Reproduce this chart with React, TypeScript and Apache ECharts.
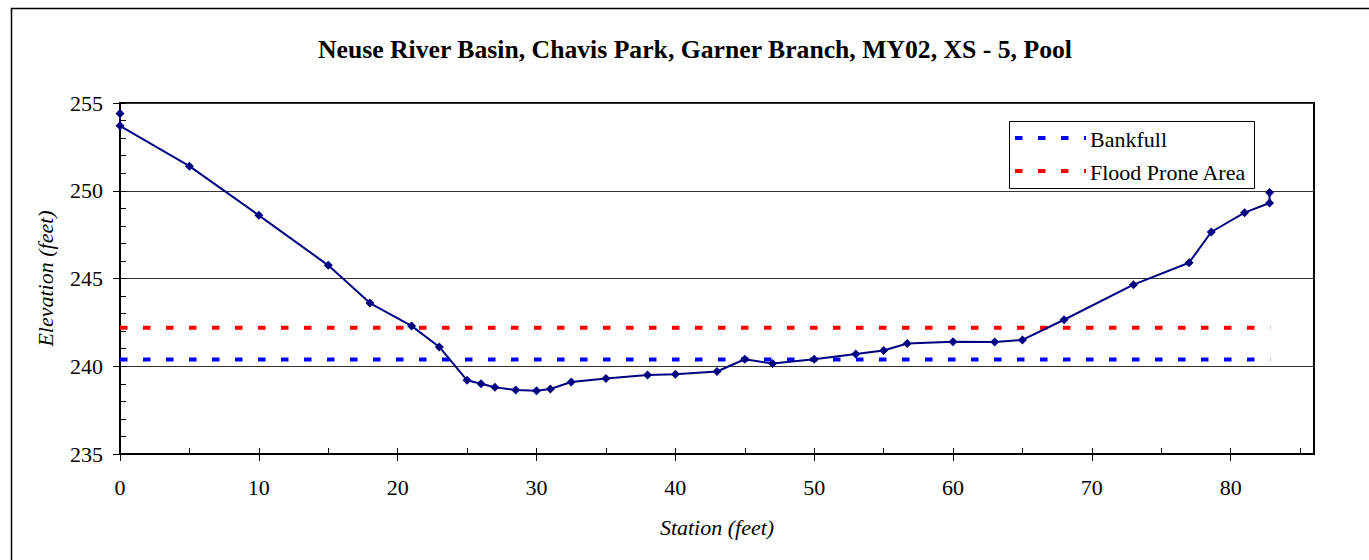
import React, { useEffect, useRef } from "react";
import * as echarts from "echarts";

const TITLE = "Neuse River Basin, Chavis Park, Garner Branch, MY02, XS - 5, Pool";
const X_NAME = "Station (feet)";
const Y_NAME = "Elevation (feet)";

const stations = [
  0, 0, 5, 10, 15, 18, 21, 23, 25, 26, 27, 28.5, 30, 31, 32.5, 35, 38, 40, 43, 45,
  47, 50, 53, 55, 56.7, 60, 63, 65, 68, 73, 77, 78.6, 81, 82.8, 82.8,
];
const elevations = [
  254.4, 253.7, 251.4, 248.6, 245.75, 243.6, 242.3, 241.1, 239.2, 239.0, 238.8, 238.65,
  238.6, 238.7, 239.1, 239.3, 239.5, 239.55, 239.7, 240.4, 240.15, 240.4, 240.7, 240.9,
  241.3, 241.4, 241.38, 241.5, 242.65, 244.65, 245.9, 247.65, 248.75, 249.3, 249.9,
];

const bankfullStations = [0, 82.85];
const bankfullElevation = 240.38;
const floodStations = [0, 82.85];
const floodElevation = 242.2;

const xMajorTicks = [0, 10, 20, 30, 40, 50, 60, 70, 80];
const xMinorTicks = [0, 5, 10, 15, 20, 25, 30, 35, 40, 45, 50, 55, 60, 65, 70, 75, 80, 85];
const yMajorTicks = [235, 240, 245, 250, 255];
const yMinorTicks = [
  235, 236, 237, 238, 239, 240, 241, 242, 243, 244, 245, 246, 247, 248, 249, 250, 251,
  252, 253, 254, 255,
];

const LEGEND_NAMES = ["Bankfull", "Flood Prone Area"];

const FONT = "Liberation Serif";

export default function App() {
  const ref = useRef<HTMLDivElement>(null);

  useEffect(() => {
    document.body.style.margin = "0";
    if (!ref.current) return;
    const chart = echarts.init(ref.current, undefined, { renderer: "svg" });

    const profile = stations.map((s, i) => [s, elevations[i]]);
    const bankfull = bankfullStations.map((s) => [s, bankfullElevation]);
    const flood = floodStations.map((s) => [s, floodElevation]);

    const dash = [7.5, 15.5];

    const option: any = {
      animation: false,
      backgroundColor: "#ffffff",
      title: {
        text: TITLE,
        left: 313,
        top: 31,
        textStyle: {
          fontFamily: FONT,
          fontWeight: "bold",
          fontSize: 25.7,
          color: "#000",
        },
      },
      grid: {
        left: 120,
        top: 103,
        right: 55,
        bottom: 106,
        show: true,
        borderColor: "#000",
        borderWidth: 2,
        containLabel: false,
        outerBoundsMode: "none",
      },
      xAxis: [
        {
          type: "value",
          min: 0,
          max: 86,
          interval: 10,
          position: "bottom",
          name: X_NAME,
          nameLocation: "middle",
          nameGap: 62,
          nameTextStyle: {
            fontFamily: FONT,
            fontStyle: "italic",
            fontSize: 22,
            color: "#000",
          },
          axisLine: { show: true, onZero: false, lineStyle: { color: "#000", width: 2 } },
          axisTick: {
            show: true,
            inside: false,
            length: 7,
            customValues: xMajorTicks,
            lineStyle: { color: "#000", width: 1 },
          },
          axisLabel: {
            show: true,
            customValues: xMajorTicks,
            margin: 22,
            fontFamily: FONT,
            fontSize: 22,
            color: "#000",
          },
          splitLine: { show: false },
        },
        {
          type: "value",
          min: 0,
          max: 86,
          interval: 5,
          position: "bottom",
          axisLine: { show: false },
          axisTick: {
            show: true,
            inside: true,
            length: 6,
            customValues: xMinorTicks,
            lineStyle: { color: "#000", width: 1 },
          },
          axisLabel: { show: false },
          splitLine: { show: false },
        },
      ],
      yAxis: [
        {
          type: "value",
          min: 235,
          max: 255,
          interval: 5,
          position: "left",
          name: Y_NAME,
          nameLocation: "middle",
          nameGap: 64,
          nameRotate: 90,
          nameTextStyle: {
            fontFamily: FONT,
            fontStyle: "italic",
            fontSize: 22,
            color: "#000",
          },
          axisLine: { show: true, onZero: false, lineStyle: { color: "#000", width: 2 } },
          axisTick: {
            show: true,
            inside: false,
            length: 7,
            customValues: yMajorTicks,
            lineStyle: { color: "#000", width: 1 },
          },
          axisLabel: {
            show: true,
            customValues: yMajorTicks,
            margin: 17,
            fontFamily: FONT,
            fontSize: 22,
            color: "#000",
          },
          splitLine: { show: true, lineStyle: { color: "#333", width: 1 } },
        },
        {
          type: "value",
          min: 235,
          max: 255,
          interval: 1,
          position: "left",
          offset: 0,
          axisLine: { show: false },
          axisTick: {
            show: true,
            inside: true,
            length: 6,
            customValues: yMinorTicks,
            lineStyle: { color: "#000", width: 1 },
          },
          axisLabel: { show: false },
          splitLine: { show: false },
        },
      ],
      series: [
        {
          name: LEGEND_NAMES[0],
          type: "line",
          data: bankfull,
          symbol: "none",
          silent: true,
          z: 2,
          lineStyle: { color: "#0000ff", width: 4, type: dash },
          itemStyle: { color: "#0000ff" },
        },
        {
          name: LEGEND_NAMES[1],
          type: "line",
          data: flood,
          symbol: "none",
          silent: true,
          z: 2,
          lineStyle: { color: "#ff0000", width: 4, type: dash },
          itemStyle: { color: "#ff0000" },
        },
        {
          name: "Profile",
          type: "line",
          data: profile,
          symbol: "diamond",
          symbolSize: 9,
          z: 3,
          lineStyle: { color: "#000080", width: 2 },
          itemStyle: { color: "#000080" },
        },
      ],
      graphic: [
        {
          type: "rect",
          z: 0,
          silent: true,
          shape: { x: 11.5, y: 8.5, width: 1400, height: 600 },
          style: { fill: "none", stroke: "#000", lineWidth: 1.5 },
        },
        {
          type: "group",
          z: 100,
          children: [
            {
              type: "rect",
              shape: { x: 1009.5, y: 121.5, width: 245, height: 67 },
              style: { fill: "#fff", stroke: "#000", lineWidth: 1 },
            },
            {
              type: "line",
              shape: { x1: 1015, y1: 138, x2: 1086, y2: 138 },
              style: { stroke: "#0000ff", lineWidth: 4, lineDash: dash },
            },
            {
              type: "line",
              shape: { x1: 1015, y1: 171, x2: 1086, y2: 171 },
              style: { stroke: "#ff0000", lineWidth: 4, lineDash: dash },
            },
            {
              type: "text",
              x: 1090,
              y: 139,
              style: {
                text: LEGEND_NAMES[0],
                fill: "#000",
                fontFamily: FONT,
                fontSize: 22,
                textAlign: "left",
                textVerticalAlign: "middle",
                align: "left",
                verticalAlign: "middle",
              },
            },
            {
              type: "text",
              x: 1090,
              y: 172,
              style: {
                text: LEGEND_NAMES[1],
                fill: "#000",
                fontFamily: FONT,
                fontSize: 22,
                textAlign: "left",
                textVerticalAlign: "middle",
                align: "left",
                verticalAlign: "middle",
              },
            },
          ],
        },
      ],
    };

    chart.setOption(option);
    return () => {
      chart.dispose();
    };
  }, []);

  return <div ref={ref} style={{ width: 1369, height: 560 }} />;
}
